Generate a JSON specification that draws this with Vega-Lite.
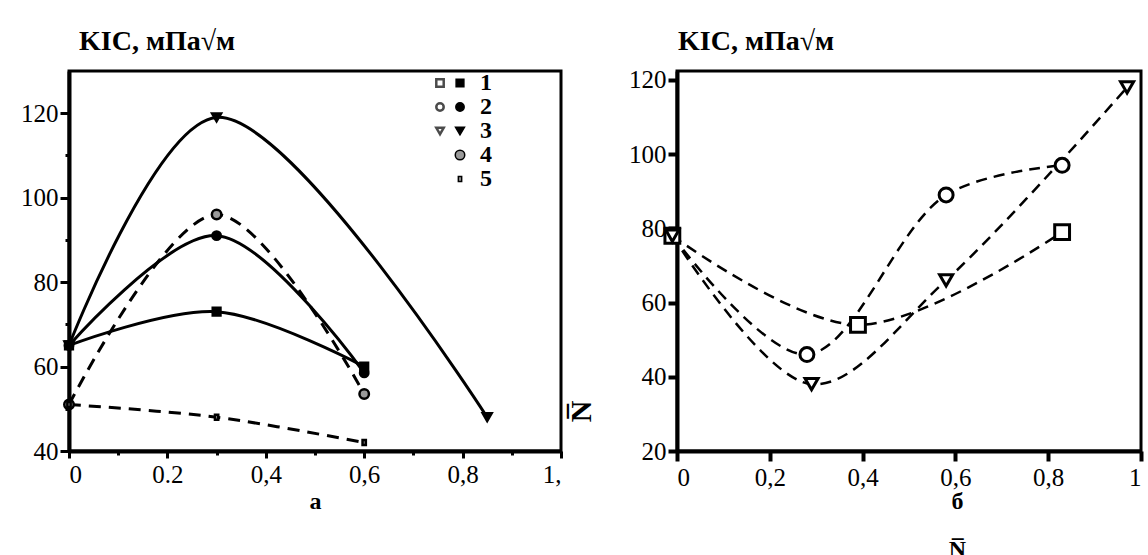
{
  "$schema": "https://vega.github.io/schema/vega-lite/v6.json",
  "background": "white",
  "padding": {"left": 19, "top": 26, "right": 0, "bottom": 0},
  "config": {
    "font": "Liberation Serif",
    "view": {"stroke": "black", "strokeWidth": 3},
    "axis": {"grid": false, "domainColor": "black", "domainWidth": 4, "tickColor": "black", "labelColor": "black", "labelFont": "Liberation Serif", "labelFontSize": 25, "titleFont": "Liberation Serif", "titleColor": "black"}
  },
  "datasets": {
    "left": [
      {"series": "1", "x": 0, "y": 65}, {"series": "1", "x": 0.3, "y": 73}, {"series": "1", "x": 0.6, "y": 60},
      {"series": "2", "x": 0, "y": 65}, {"series": "2", "x": 0.3, "y": 91}, {"series": "2", "x": 0.6, "y": 58.5},
      {"series": "3", "x": 0, "y": 65}, {"series": "3", "x": 0.3, "y": 119}, {"series": "3", "x": 0.85, "y": 48},
      {"series": "4", "x": 0, "y": 51}, {"series": "4", "x": 0.3, "y": 96}, {"series": "4", "x": 0.6, "y": 53.5},
      {"series": "5", "x": 0, "y": 51}, {"series": "5", "x": 0.3, "y": 48}, {"series": "5", "x": 0.6, "y": 42}
    ],
    "right": [
      {"series": "2", "x": -0.01, "y": 78}, {"series": "2", "x": 0.28, "y": 46}, {"series": "2", "x": 0.58, "y": 89}, {"series": "2", "x": 0.83, "y": 97},
      {"series": "1", "x": -0.01, "y": 78}, {"series": "1", "x": 0.39, "y": 54}, {"series": "1", "x": 0.83, "y": 79},
      {"series": "3", "x": -0.01, "y": 78}, {"series": "3", "x": 0.29, "y": 38}, {"series": "3", "x": 0.58, "y": 66}, {"series": "3", "x": 0.97, "y": 118}
    ]
  },
  "spacing": 29,
  "resolve": {
    "scale": {"shape": "independent", "fill": "independent", "size": "independent", "x": "independent", "y": "independent"},
    "legend": {"shape": "independent", "fill": "independent", "size": "independent"}
  },
  "hconcat": [
    {
      "width": 492, "height": 380,
      "title": {"text": "KIC, мПа√м", "anchor": "start", "frame": "group", "offset": -7, "dx": 10, "fontSize": 28, "fontWeight": "bold", "font": "Liberation Serif", "baseline": "alphabetic", "color": "black"},
      "data": {"name": "left"},
      "resolve": {
        "axis": {"x": "independent", "y": "independent"},
        "scale": {"shape": "independent", "fill": "independent", "size": "independent"},
        "legend": {"shape": "independent", "fill": "independent", "size": "independent"}
      },
      "layer": [
        {
          "transform": [{"filter": "datum.series <= '3'"}],
          "mark": {"type": "line", "interpolate": "catmull-rom", "stroke": "black", "strokeWidth": 3},
          "encoding": {
            "x": {"field": "x", "type": "quantitative", "scale": {"domain": [0, 1], "nice": false},
              "axis": {"orient": "bottom", "values": [0, 0.2, 0.4, 0.6, 0.8, 1], "tickSize": 7, "tickWidth": 3, "labelPadding": 4,
                "labelExpr": "datum.value == 0 ? '0' : datum.value < 0.3 ? '0.2' : datum.value < 0.5 ? '0,4' : datum.value < 0.7 ? '0,6' : datum.value < 0.9 ? '0,8' : '1,'",
                "title": "а", "titleFontSize": 24, "titleFontWeight": "bold", "titleBaseline": "alphabetic", "titleY": 57}},
            "y": {"field": "y", "type": "quantitative", "scale": {"domain": [40, 130], "nice": false},
              "axis": {"orient": "left", "values": [40, 60, 80, 100, 120], "tickSize": 9, "tickWidth": 3, "labelPadding": 2, "title": null}},
            "detail": {"field": "series"}
          }
        },
        {
          "transform": [{"filter": "datum.series > '3'"}],
          "mark": {"type": "line", "interpolate": "catmull-rom", "stroke": "black", "strokeWidth": 3, "strokeDash": [12, 8]},
          "encoding": {
            "x": {"field": "x", "type": "quantitative",
              "axis": {"orient": "bottom", "values": [0.1, 0.3, 0.5, 0.7, 0.9], "tickSize": 4, "tickWidth": 3, "labels": false, "domain": false, "title": null}},
            "y": {"field": "y", "type": "quantitative",
              "axis": {"orient": "left", "values": [50, 70, 90, 110], "tickSize": 4, "tickWidth": 3, "labels": false, "domain": false, "title": null}},
            "detail": {"field": "series"}
          }
        },
        {
          "mark": {"type": "point", "filled": true, "stroke": "black", "strokeWidth": 2.5, "opacity": 1},
          "encoding": {
            "x": {"field": "x", "type": "quantitative", "axis": null},
            "y": {"field": "y", "type": "quantitative", "axis": null},
            "shape": {"field": "series", "type": "nominal",
              "scale": {"domain": ["1", "2", "3", "4", "5"], "range": ["square", "circle", "triangle-down", "circle", "M-0.33,-0.5L0.33,-0.5L0.33,0.5L-0.33,0.5Z"]},
              "legend": {"orient": "none", "legendX": 379, "legendY": 0, "title": null, "padding": 0, "rowPadding": 0, "labelFontSize": 24, "labelFontWeight": "bold", "labelFont": "Liberation Serif", "labelColor": "black", "labelOffset": 8, "encode": {"symbols": {"update": {"stroke": {"value": "black"}, "strokeWidth": {"value": 2.5}}}}}},
            "fill": {"field": "series", "type": "nominal",
              "scale": {"domain": ["1", "2", "3", "4", "5"], "range": ["black", "black", "black", "#9a9a9a", "#9a9a9a"]},
              "legend": {"orient": "none", "legendX": 379, "legendY": 0, "title": null, "padding": 0, "rowPadding": 0, "labelFontSize": 24, "labelFontWeight": "bold", "labelFont": "Liberation Serif", "labelColor": "black", "labelOffset": 8, "encode": {"symbols": {"update": {"stroke": {"value": "black"}, "strokeWidth": {"value": 2.5}}}}}},
            "size": {"field": "series", "type": "nominal",
              "scale": {"domain": ["1", "2", "3", "4", "5"], "range": [60, 100, 170, 90, 110]},
              "legend": {"orient": "none", "legendX": 379, "legendY": 0, "title": null, "padding": 0, "rowPadding": 0, "labelFontSize": 24, "labelFontWeight": "bold", "labelFont": "Liberation Serif", "labelColor": "black", "labelOffset": 8, "encode": {"symbols": {"update": {"stroke": {"value": "black"}, "strokeWidth": {"value": 2.5}}}}}}
          }
        },
        {
          "transform": [{"filter": "datum.series == 'none'"}],
          "mark": {"type": "point", "filled": false, "stroke": "black", "strokeWidth": 2.5},
          "encoding": {
            "x": {"field": "x", "type": "quantitative",
              "axis": {"orient": "bottom", "labels": false, "ticks": false, "domain": false, "title": "N\u0305", "titleFontSize": 30, "titleFontWeight": "bold", "titleAngle": -90, "titleX": 497, "titleY": -40}},
            "y": {"field": "y", "type": "quantitative", "axis": null},
            "shape": {"field": "series", "type": "nominal",
              "scale": {"domain": ["a", "b", "c"], "range": ["square", "circle", "triangle-down"]},
              "legend": {"orient": "none", "legendX": 359, "legendY": 0, "title": null, "padding": 0, "rowPadding": 0, "labelFontSize": 24, "labelOpacity": 0, "labelOffset": 8, "symbolSize": 55, "symbolFillColor": "white", "symbolStrokeColor": "black", "symbolStrokeWidth": 2.5}}
          }
        }
      ]
    },
    {
      "width": 464, "height": 380,
      "title": {"text": "KIC, мПа√м", "anchor": "start", "frame": "group", "offset": -10, "dx": 1, "fontSize": 28, "fontWeight": "bold", "font": "Liberation Serif", "baseline": "alphabetic", "color": "black"},
      "data": {"name": "right"},
      "layer": [
        {
          "mark": {"type": "line", "interpolate": "catmull-rom", "stroke": "black", "strokeWidth": 2.5, "strokeDash": [11, 7], "clip": true},
          "encoding": {
            "x": {"field": "x", "type": "quantitative", "scale": {"domain": [0, 1], "nice": false},
              "axis": {"orient": "bottom", "values": [0, 0.2, 0.4, 0.6, 0.8, 1], "tickSize": 10, "tickWidth": 4, "labelPadding": 4,
                "labelExpr": "datum.value == 0 ? '0' : datum.value == 1 ? '1' : replace(format(datum.value, '.1f'), '.', ',')",
                "title": ["б", "N\u0305"], "titleFontSize": 24, "titleFontWeight": "bold", "titleBaseline": "alphabetic", "titleLineHeight": 48, "titleX": 280, "titleY": 57}},
            "y": {"field": "y", "type": "quantitative", "scale": {"domain": [20, 122.4], "nice": false},
              "axis": {"orient": "left", "values": [20, 40, 60, 80, 100, 120], "tickSize": 9, "tickWidth": 4, "labelPadding": 2, "title": null}},
            "detail": {"field": "series"}
          }
        },
        {
          "mark": {"type": "point", "filled": false, "stroke": "black", "strokeWidth": 3, "fill": "white", "opacity": 1, "clip": false},
          "encoding": {
            "x": {"field": "x", "type": "quantitative"},
            "y": {"field": "y", "type": "quantitative"},
            "shape": {"field": "series", "type": "nominal", "scale": {"domain": ["1", "2", "3"], "range": ["square", "circle", "triangle-down"]}, "legend": null},
            "size": {"field": "series", "type": "nominal", "scale": {"domain": ["1", "2", "3"], "range": [220, 170, 150]}, "legend": null}
          }
        }
      ]
    }
  ]
}
